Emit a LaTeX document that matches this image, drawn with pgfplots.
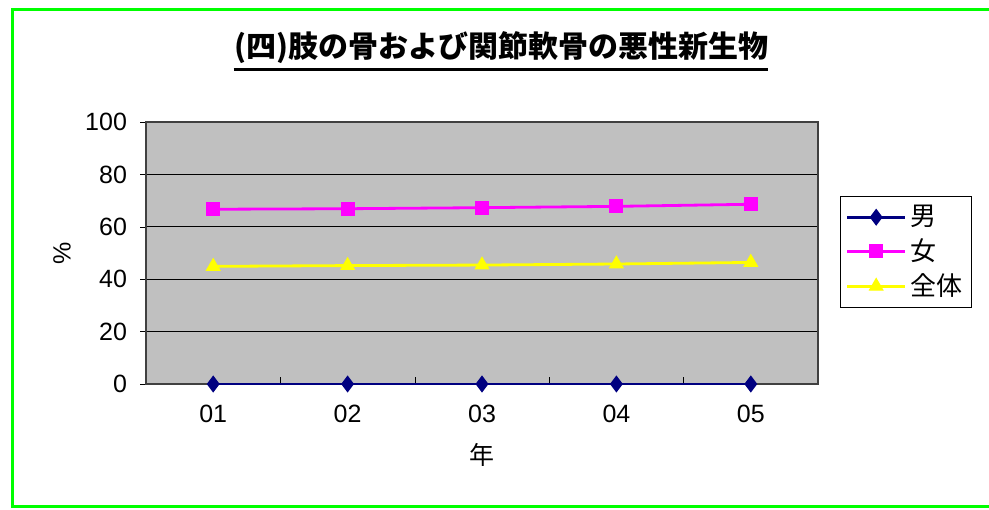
\documentclass[border=0pt]{standalone}
\usepackage{fontspec}
\setmainfont{Liberation Sans}
\newfontfamily\jp{Noto Sans CJK JP}
\usepackage{pgfplots}
\pgfplotsset{compat=1.18}
\definecolor{plotgray}{HTML}{C0C0C0}
\definecolor{framegreen}{HTML}{00FF00}
\definecolor{navy}{HTML}{000080}
\definecolor{magenta}{HTML}{FF00FF}
\definecolor{yel}{HTML}{FFFF00}

\begin{document}
\begin{tikzpicture}
\useasboundingbox (0,0) rectangle (494.5pt,254.5pt);
\begin{scope}
  \clip (0,0) rectangle (494.5pt,254.5pt);
  \draw[framegreen, line width=1.5pt] (6pt,1.5pt) rectangle (510pt,249.5pt);
\end{scope}

% title with underline
\node[font=\jp\bfseries\fontsize{15}{15}\selectfont, inner sep=0pt] (t) at (250.5pt,230.5pt) {(四)肢の骨および関節軟骨の悪性新生物};
\draw[black, line width=1.2pt] ([yshift=-2.5pt]t.south west) -- ([yshift=-2.5pt]t.south east);

\begin{axis}[
  at={(73pt,62.5pt)}, anchor=south west,
  scale only axis, width=336pt, height=131pt,
  xmin=-0.5, xmax=4.5, ymin=0, ymax=100,
  xtick={0,1,2,3,4}, xticklabels={01,02,03,04,05},
  xtick pos=bottom, ytick pos=left,
  major x tick style={draw=none},
  minor xtick={-0.5,0.5,1.5,2.5,3.5,4.5},
  minor x tick style={black},
  minor tick length=3.5pt,
  ytick={0,20,40,60,80,100},
  ytick align=outside, major tick length=3pt,
  ymajorgrids, grid style={black, line width=0.6pt},
  axis background/.style={fill=plotgray},
  axis line style={black!75, line width=0.7pt},
  tick style={black},
  tick label style={font=\fontsize{12.5}{14}\selectfont},
  /pgf/number format/assume math mode=true,
  xticklabel shift=7pt,
  yticklabel shift=3pt,
  xlabel={\jp 年}, ylabel={\%},
  label style={font=\fontsize{12.5}{14}\selectfont},
  xlabel style={at={(axis description cs:0.5,-0.271)}, anchor=center},
  ylabel style={at={(axis description cs:-0.125,0.5)}, anchor=center},
  legend style={at={(rel axis cs:1.033,0.718)}, anchor=north west,
    draw=black, fill=white, line width=0.6pt,
    font=\jp\fontsize{13}{13.5}\selectfont,
    row sep=1pt, inner sep=2.5pt},
  legend cell align=left,
  legend image code/.code={%
    \draw[mark repeat=2,mark phase=2,#1] plot coordinates {(0pt,0pt) (14.5pt,0pt) (29pt,0pt)};},
  clip=false,
]
\addplot[navy, line width=1.4pt, mark=diamond*, mark size=3.8pt, mark options={fill=navy, line width=0.6pt}]
  coordinates {(0,0) (1,0) (2,0) (3,0) (4,0)};
\addlegendentry{男}
\addplot[magenta, line width=1.4pt, mark=square*, mark size=3.2pt, mark options={fill=magenta, line width=0.6pt}]
  coordinates {(0,66.7) (1,66.9) (2,67.3) (3,67.8) (4,68.6)};
\addlegendentry{女}
\addplot[yel, line width=1.4pt, mark=triangle*, mark size=3.8pt, mark options={fill=yel, line width=0.6pt}]
  coordinates {(0,44.9) (1,45.2) (2,45.4) (3,45.8) (4,46.4)};
\addlegendentry{全体}
\end{axis}
\end{tikzpicture}
\end{document}
